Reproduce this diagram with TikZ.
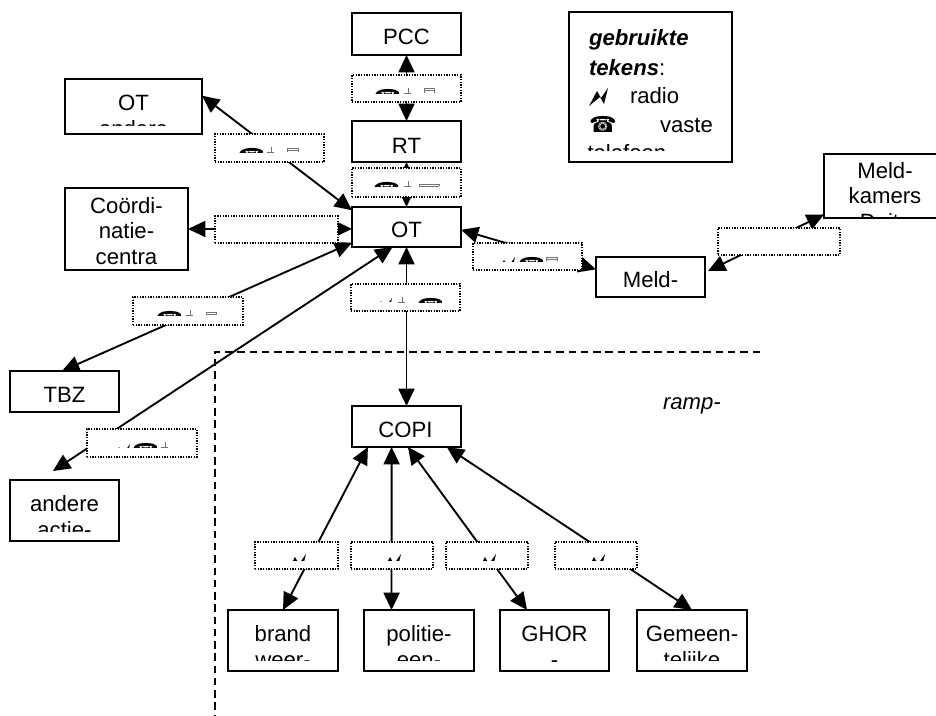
\documentclass[tikz,border=0pt]{standalone}
\usepackage{fontspec}
\setmainfont{Liberation Sans}
\newfontfamily\dejavu{DejaVu Sans}
\usetikzlibrary{arrows.meta}
\tikzset{
  x=0.75pt,y=-0.75pt,
  mainbox/.style={draw=black,fill=white,line width=1.4pt,inner sep=0pt,outer sep=0pt},
  dotbox/.style={draw=black,fill=white,line width=0.9pt,dash pattern=on 0.9pt off 1.1pt,inner sep=0pt,outer sep=0pt},
  lbl/.style={font=\fontsize{16.6}{19}\selectfont,inner sep=0pt,outer sep=0pt,anchor=base},
  lgd/.style={font=\fontsize{16.6}{19}\selectfont,inner sep=0pt,outer sep=0pt,anchor=base west},
  conn/.style={line width=1.4pt,{Triangle[length=13pt,width=12pt]}-{Triangle[length=13pt,width=12pt]}},
  border/.style={line width=1.2pt,dash pattern=on 5.6pt off 3.6pt},
  small/.style={draw=black!55,line width=0.45pt},
}
\newcommand\bx[6][mainbox]{\node[#1,minimum width={(#5-#3)*0.75pt},minimum height={(#6-#4)*0.75pt}] (#2) at ({(#3+#5)/2},{(#4+#6)/2}) {};}
% name, x centre, baseline, clip y, text
\newcommand\lb[5]{\begin{scope}\clip ({#2-75},{#3-24}) rectangle ({#2+75},#4);\node[lbl] (#1) at (#2,#3) {#5};\end{scope}}
% name, left x, clip y
\newcommand\phn[3]{\begin{scope}\clip (#2,{#3-8}) rectangle ({#2+24},#3);\node[inner sep=0pt,outer sep=0pt,anchor=base west,font=\dejavu\fontsize{16.6}{19}\selectfont] (#1) at (#2,{#3+12}) {☎};\end{scope}}
% left x, top y, clip y
\newcommand\rdo[3]{\begin{scope}\clip (#1,#2) rectangle ({#1+22},#3);\fill[shift={({#1-589},{#2-88})}] (589,106)--(597,91)--(601,98)--(608,88)--(604,104)--(600,97)--cycle;\end{scope}}
% x, top, bottom
\newcommand\tck[3]{\draw[small] (#1,#2)--(#1,#3) ({#1-4},#3)--({#1+3},#3);}
% x1, x2, top, bottom
\newcommand\fax[4]{\draw[small,line width=0.7pt] (#1,#4)--(#1,#3)--(#2,#3)--(#2,#4);\draw[small] (#1,{#3+2.5})--(#2,{#3+2.5});}
\begin{document}
\begin{tikzpicture}
\useasboundingbox (0,0) rectangle (936,715);
\fill[white] (0,0) rectangle (936,715);
% main boxes
\bx{pcc}{352}{13}{461}{55}
\bx{rt}{352}{121}{461}{162}
\bx{ot}{352}{207}{461}{247}
\bx{otl}{65}{79}{202}{134}
\bx{coord}{65}{188}{188}{270}
\bx{tbz}{10}{371}{119}{412}
\bx{andere}{10}{480}{119}{541}
\bx{meld}{596}{257}{705}{297}
\bx{meldk}{824}{154}{946}{218}
\bx{legend}{569}{12}{732}{162}
\bx{copi}{352}{406}{461}{447}
\bx{brand}{228}{610}{338}{671}
\bx{politie}{364}{610}{474}{671}
\bx{ghor}{500}{610}{609}{671}
\bx{gemeen}{637}{610}{747}{671}
% texts
\lb{tpcc}{406.5}{44}{60}{PCC}
\lb{trt}{406.5}{153}{152}{RT}
\lb{tot}{406.5}{237}{245}{OT}
\lb{totl}{133.5}{110}{125}{OT}
\lb{totlb}{133.5}{136}{125}{andere}
\lb{tca}{126.5}{213}{265}{Coördi-}
\lb{tcb}{126.5}{238.5}{265}{natie-}
\lb{tcc}{126.5}{264}{268}{centra}
\lb{ttbz}{64.5}{402}{410}{TBZ}
\lb{tana}{64.5}{511}{531}{andere}
\lb{tanb}{64.5}{537}{531}{actie-}
\lb{tmeld}{650.5}{287}{295}{Meld-}
\lb{tmka}{885}{178}{217}{Meld-}
\lb{tmkb}{885}{203}{217}{kamers}
\lb{tmkc}{885}{229}{217}{Duits}
\lb{tcopi}{405.5}{437}{445}{COPI}
\lb{tbra}{283}{641}{660.5}{brand}
\lb{tbrb}{283}{667}{660.5}{weer-}
\lb{tpoa}{419}{641}{660.5}{politie-}
\lb{tpob}{419}{667}{660.5}{een-}
\lb{tgha}{554.5}{641}{660.5}{GHOR}
\lb{tghb}{554.5}{667}{661}{-}
\lb{tgea}{692}{641}{660.5}{Gemeen-}
\lb{tgeb}{692}{667}{660.5}{telijke}
\node[lgd,font=\fontsize{16.6}{19}\selectfont\itshape] (tramp) at (663,409) {ramp-};
% legend
\node[lgd,font=\fontsize{16.6}{19}\selectfont\bfseries\itshape] (lga) at (589,45) {gebruikte};
\node[lgd] (lgb) at (589,75) {\textbf{\textit{tekens}}:};
\fill (589,106)--(597,91)--(601,98)--(608,88)--(604,104)--(600,97)--cycle;
\node[lgd] (lgc) at (630,103) {radio};
\node[lgd,font=\dejavu\fontsize{16.6}{19}\selectfont] (lgd) at (589,132) {☎};
\node[lgd] (lge) at (660,132) {vaste};
\begin{scope}\clip (580,140) rectangle (720,150.7);\node[lgd] (lgf) at (587.5,160) {telefoon};\end{scope}
% connectors
\coordinate (antip) at (53,471);
\coordinate (mldtip) at (708,271);
\draw[conn] (pcc.south) -- (rt.north);
\draw[conn] (rt.south) -- (ot.north);
\draw[conn] (otl.9.5) -- (ot.163.5);
\draw[conn] (coord.east) -- (ot.182);
\draw[conn] (tbz.97) -- (ot.196.5);
\draw[conn] (antip) -- (ot.235);
\draw[conn] (ot.-3) -- (meld.172);
\draw[conn] (mldtip) -- (meldk.205.4);
\draw[conn] (ot.south) -- (copi.north);
\draw[conn] (copi.208) -- (brand.north);
\draw[conn] (copi.234.7) -- (politie.132.6);
\draw[conn] (copi.274) -- (ghor.132);
\draw[conn] (copi.333.7) -- (gemeen.north);
% dotted boxes
\bx[dotbox]{d1}{352}{75}{461}{102}
\bx[dotbox]{d2}{352}{168}{461}{197}
\bx[dotbox]{d3}{351}{284}{460}{311}
\bx[dotbox]{d4}{215}{134}{324}{162}
\bx[dotbox]{d5}{215}{216}{338}{243}
\bx[dotbox]{d6}{133}{297}{243}{325}
\bx[dotbox]{d7}{473}{243}{582}{270}
\bx[dotbox]{d8}{718}{228}{840}{255}
\bx[dotbox]{d9}{87}{429}{197}{457}
\bx[dotbox]{d10}{255}{542}{338}{569}
\bx[dotbox]{d11}{351}{542}{433}{569}
\bx[dotbox]{d12}{446}{542}{528}{569}
\bx[dotbox]{d13}{555}{542}{637}{569}
% clipped icons
\phn{p1}{374}{93}\tck{408}{88}{93}\fax{424}{434}{88}{93}
\phn{p2}{373}{186}\tck{408}{181}{186}\fax{419}{439}{184}{186}
\rdo{373}{298}{301}\tck{402}{297}{302}\phn{p3}{417}{302}
\phn{p4}{238}{152}\tck{271}{147}{152}\fax{287}{298}{148}{152}
\phn{p5}{156}{315}\tck{190}{310}{315}\fax{206}{216}{312}{315}
\rdo{496}{257}{261}\phn{p6}{518}{261}\fax{546}{557}{257}{261}
\rdo{111}{444}{447}\phn{p7}{132}{447}\tck{165}{442}{447}
\rdo{287}{554}{560}
\rdo{382}{554}{560}
\rdo{477}{554}{560}
\rdo{586}{554}{560}
% scene border
\coordinate (bc) at (215,352);
\coordinate (br) at (760,352);
\coordinate (bb) at (215,715);
\draw[border] (br) -- (bc) -- (bb);
\end{tikzpicture}
\end{document}
